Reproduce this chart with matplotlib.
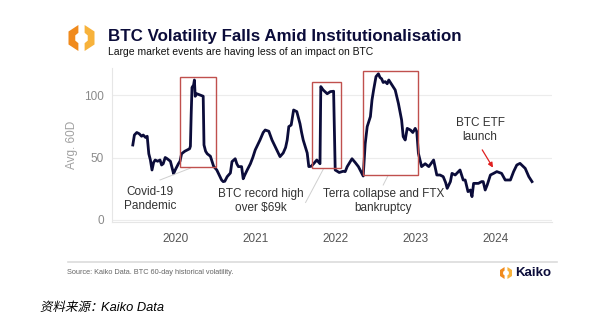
import matplotlib
matplotlib.use('Agg')
import matplotlib.pyplot as plt
from matplotlib.patches import Polygon, Rectangle, PathPatch
from matplotlib.lines import Line2D
from matplotlib.textpath import TextPath
from matplotlib.font_manager import FontProperties
from matplotlib.transforms import Affine2D

plt.rcParams['font.family'] = ['Liberation Sans', 'DejaVu Sans']

# ── Datos: volatilidad histórica 60D de BTC (fecha decimal, valor) ──
years = [
    2019.47, 2019.49, 2019.52, 2019.55, 2019.58, 2019.60, 2019.63, 2019.65,
    2019.67, 2019.69, 2019.71, 2019.73, 2019.75, 2019.78, 2019.81, 2019.83,
    2019.85, 2019.875, 2019.90, 2019.94, 2019.96, 2019.98, 2020.00, 2020.04,
    2020.06, 2020.08, 2020.12, 2020.15, 2020.18, 2020.19, 2020.20, 2020.21,
    2020.23, 2020.24, 2020.25, 2020.27, 2020.31, 2020.35, 2020.36, 2020.38,
    2020.40, 2020.44, 2020.48, 2020.52, 2020.55, 2020.58, 2020.60, 2020.62,
    2020.65, 2020.69, 2020.71, 2020.75, 2020.77, 2020.79, 2020.83, 2020.85,
    2020.87, 2020.90, 2020.94, 2020.97, 2021.00, 2021.03, 2021.06, 2021.10,
    2021.125, 2021.17, 2021.21, 2021.24, 2021.27, 2021.31, 2021.35, 2021.38,
    2021.40, 2021.42, 2021.45, 2021.48, 2021.52, 2021.56, 2021.58, 2021.60,
    2021.65, 2021.67, 2021.70, 2021.73, 2021.77, 2021.81, 2021.82, 2021.85,
    2021.90, 2021.94, 2021.98, 2022.00, 2022.05, 2022.10, 2022.125, 2022.15,
    2022.21, 2022.25, 2022.29, 2022.35, 2022.375, 2022.40, 2022.44, 2022.46,
    2022.48, 2022.51, 2022.54, 2022.56, 2022.58, 2022.60, 2022.625, 2022.65,
    2022.67, 2022.71, 2022.75, 2022.79, 2022.83, 2022.85, 2022.875, 2022.90,
    2022.94, 2022.97, 2023.00, 2023.02, 2023.04, 2023.08, 2023.125, 2023.17,
    2023.23, 2023.27, 2023.31, 2023.35, 2023.38, 2023.40, 2023.44, 2023.46,
    2023.50, 2023.56, 2023.60, 2023.625, 2023.66, 2023.69, 2023.71, 2023.73,
    2023.79, 2023.83, 2023.85, 2023.875, 2023.90, 2023.94, 2023.98, 2024.02,
    2024.08, 2024.125, 2024.19, 2024.23, 2024.27, 2024.31, 2024.375, 2024.42,
    2024.46,
]
vol = [
    60, 68, 70, 69, 67, 68, 66, 67,
    53, 48, 40, 46, 48, 47, 48, 44,
    45, 50, 49, 47, 42, 37, 40, 45,
    47, 53, 55, 56, 57, 59, 85, 106,
    108, 112, 99, 101, 100, 99, 60, 55,
    53, 51, 43, 40, 36, 32, 30.7, 31,
    34.7, 37.6, 46.7, 49, 45, 42.7, 42.7, 33,
    36, 40, 45, 50, 56, 60, 64, 70,
    72, 71, 64, 60, 56, 50.7, 53.6, 58,
    64, 74.7, 76, 88, 86.7, 77, 70, 64,
    53.6, 42.7, 43, 45, 48, 45, 106.7, 104,
    101, 102.7, 103, 40, 38, 39, 38.7, 42.7,
    49, 46, 42.7, 35.2, 61, 74.7, 82.7, 96,
    104, 114.7, 117, 114, 113, 110, 110.7, 109,
    112, 108, 104, 93.3, 80, 66.7, 64, 73.3,
    72, 70, 73.3, 70.7, 53.3, 42.7, 45, 42.7,
    48, 36, 36, 34.7, 30, 25.3, 30.7, 37.3,
    36, 40, 32, 32, 22.7, 24, 18.7, 29.3,
    29.3, 30.7, 30.7, 24, 28, 36, 37.3, 38.7,
    37.3, 32, 32, 38.7, 44, 45.3, 41.3, 34.7,
    30.7,
]

# recuadros de eventos: (x0, x1, y0, y1)
boxes = [
    (2020.06, 2020.51, 42.7, 114),
    (2021.71, 2022.075, 41.3, 110.7),
    (2022.35, 2023.03, 36, 119.5),
]

xticks = [2020, 2021, 2022, 2023, 2024]
yticks = [0, 50, 100]

NAVY = '#0b0c3a'
RED = '#c0504d'
GRAY = '#8a8a8a'
ORANGE_D = '#f08a1c'
ORANGE_L = '#f7b23b'

W, H = 601, 327
fig = plt.figure(figsize=(W / 100, H / 100), dpi=100)

def fx(px):
    return px / W

def fy(py):
    return 1 - py / H

ax = fig.add_axes([fx(112), fy(222), fx(552) - fx(112), fy(68) - fy(222)])
ax.set_xlim(2019.21, 2024.71)
ax.set_ylim(-1.6, 121.6)

ax.plot(years, vol, color=NAVY, lw=2.0, solid_joinstyle='round')

for x0, x1, y0, y1 in boxes:
    ax.add_patch(Rectangle((x0, y0), x1 - x0, y1 - y0, fill=False,
                           ec=RED, lw=1.0, zorder=3))

for s in ['top', 'right']:
    ax.spines[s].set_visible(False)
ax.spines['left'].set_color('#e6e6e6')
ax.spines['bottom'].set_color('#e6e6e6')
ax.set_yticks(yticks)
ax.set_xticks(xticks)
ax.yaxis.grid(True, color='#ececec', lw=0.8)
ax.set_axisbelow(True)
ax.tick_params(length=0, labelsize=8.5, colors=GRAY, pad=6)
ax.tick_params(axis='x', colors='#555555', pad=8)
ax.set_ylabel('Avg. 60D', color='#a0a0a0', fontsize=8.5, labelpad=4)

# ── Anotaciones ────────────────────────────────────────────
txt = dict(fontsize=8.5, color='#333333', ha='center', va='center',
           linespacing=1.2)
ax.text(2019.69, 16.5, 'Covid-19\nPandemic', **txt)
ax.text(2021.07, 15.5, 'BTC record high\nover $69k', **txt)
ax.text(2022.60, 15.5, 'Terra collapse and FTX\nbankruptcy', **txt)
ax.text(2023.81, 72, 'BTC ETF\nlaunch', **txt)

lead = dict(color='#cfcfcf', lw=0.7)
ax.plot([2019.81, 2020.19], [32, 41.5], **lead)
ax.plot([2021.63, 2021.85], [14, 40.5], **lead)
ax.plot([2022.60, 2022.66], [28, 35.5], **lead)
ax.annotate('', xy=(2023.99, 40), xytext=(2023.82, 58),
            arrowprops=dict(arrowstyle='-|>', color='#e02020', lw=0.9,
                            mutation_scale=7))

# ── Cabecera ───────────────────────────────────────────────
def kaiko_mark(cx, cy, s):
    # dos corchetes que forman el logo
    left = [(cx - 0.12 * s, cy + 0.5 * s), (cx - 0.5 * s, cy + 0.25 * s),
            (cx - 0.5 * s, cy - 0.25 * s), (cx - 0.12 * s, cy - 0.5 * s),
            (cx - 0.12 * s, cy - 0.2 * s), (cx - 0.24 * s, cy - 0.1 * s),
            (cx - 0.24 * s, cy + 0.1 * s), (cx - 0.12 * s, cy + 0.2 * s)]
    right = [(2 * cx - x, 2 * cy - y) for x, y in left]
    for pts, c in [(left, ORANGE_D), (right, ORANGE_L)]:
        fig.patches.append(Polygon([(fx(x), fy(y)) for x, y in pts],
                                   closed=True, fc=c, ec='none',
                                   transform=fig.transFigure))

kaiko_mark(81.5, 38, 26)
fig.text(fx(108), fy(37), 'BTC Volatility Falls Amid Institutionalisation',
         fontsize=12.2, fontweight='bold', color=NAVY, va='center')
fig.text(fx(108), fy(52), 'Large market events are having less of an impact on BTC',
         fontsize=7.5, color='#111111', va='center')

# ── Pie ────────────────────────────────────────────────────
fig.lines.append(Line2D([fx(68), fx(557)], [fy(262), fy(262)], color='#dcdcdc',
                        lw=1.2, transform=fig.transFigure))
fig.text(fx(67), fy(273), 'Source: Kaiko Data. BTC 60-day historical volatility.',
         fontsize=5.3, color='#666666', va='center')
kaiko_mark(506, 273, 12)
fig.text(fx(515), fy(273), 'Kaiko', fontsize=9.5, fontweight='bold', color=NAVY,
         va='center')

# texto chino inclinado (la fuente CJK no trae cursiva), misma línea base
BASE = 311
cjk = TextPath((0, 0), '资料来源：', size=12.5,
               prop=FontProperties(family='Noto Sans CJK SC'))
skew = Affine2D().skew_deg(12, 0).translate(40, H - BASE)
fig.patches.append(PathPatch(cjk, transform=skew, fc='black', ec='none'))
fig.text(fx(101), fy(BASE), 'Kaiko Data', fontsize=9.3, color='black',
         va='baseline', style='italic')

fig.savefig('out.png', dpi=100)
